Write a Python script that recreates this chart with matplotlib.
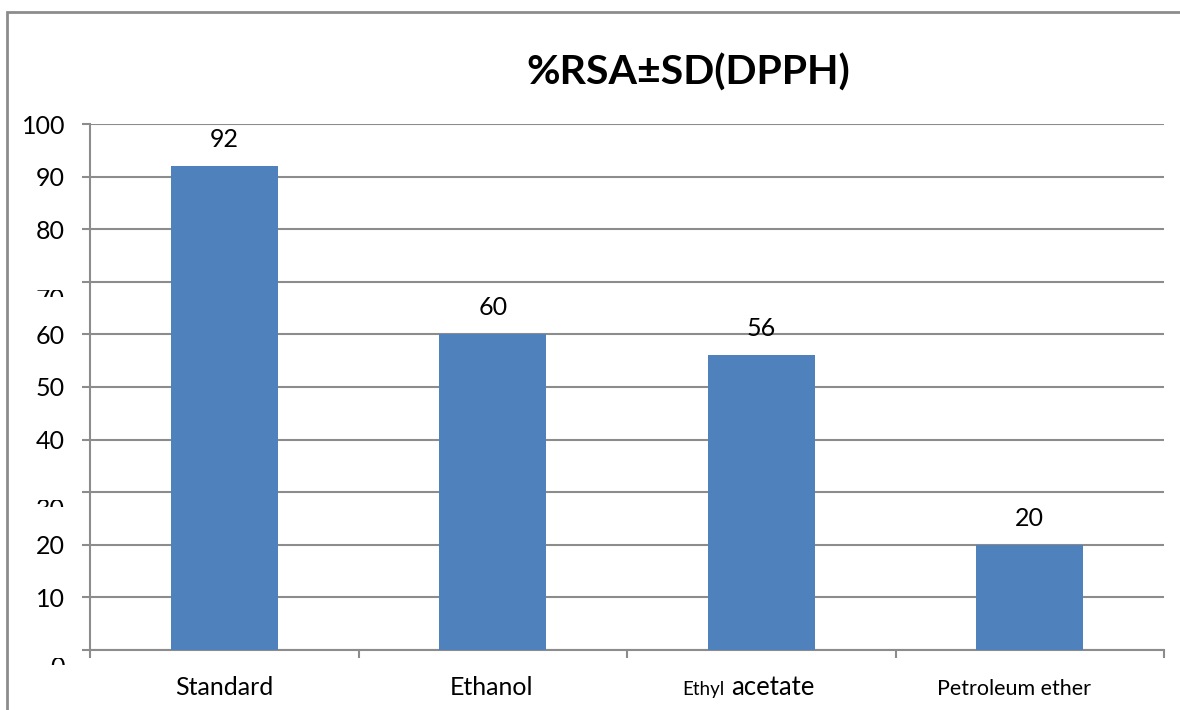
import numpy as np
import matplotlib.pyplot as plt
from matplotlib.transforms import Bbox, offset_copy
from matplotlib.patches import Rectangle

plt.rcParams['font.family'] = ['Lato', 'DejaVu Sans']

categories = ["Standard", "Ethanol", "Ethyl acetate", "Petroleum ether"]
rsa_values = [92, 60, 56, 20]
y_ticks = [0, 10, 20, 30, 40, 50, 60, 70, 80, 90, 100]
clipped_ticks = [0, 30, 70]   # labels that are half hidden in the original

bar_colour = '#4F81BD'
grid_colour = '#8C8C8C'

fig = plt.figure(figsize=(11.8, 7.1), dpi=100)
ax = fig.add_axes([90 / 1180, 60 / 710, 1074 / 1180, 526 / 710])

x = np.arange(len(categories))
bars = ax.bar(x, rsa_values, width=0.4, color=bar_colour, zorder=3)
ax.bar_label(bars, labels=[str(v) for v in rsa_values], padding=11, fontsize=18)

ax.set_xlim(-0.5, len(categories) - 0.5)
ax.set_ylim(0, 100)
ax.set_yticks(y_ticks)
ax.yaxis.grid(True, color=grid_colour, linewidth=1.5, zorder=0)

for side in ['top', 'right']:
    ax.spines[side].set_visible(False)
for side in ['left', 'bottom']:
    ax.spines[side].set_color(grid_colour)
    ax.spines[side].set_linewidth(1.5)

ax.tick_params(axis='y', length=6, width=1.5, color=grid_colour, labelsize=18, pad=12)

# x ticks at the category boundaries, labels drawn separately
ax.set_xticks(np.arange(len(categories) + 1) - 0.5)
ax.set_xticklabels([])
ax.tick_params(axis='x', length=6, width=1.5, color=grid_colour)

# the half hidden y labels (70, 30, 0)
for lab in ax.get_yticklabels():
    if lab.get_text() in [str(t) for t in clipped_ticks]:
        lab.set_visible(False)
for t in clipped_ticks:
    y_pix = ax.transData.transform((0, t))[1]
    txt = ax.text(0, t, str(t), ha='right', va='center', fontsize=18,
                  transform=offset_copy(ax.get_yaxis_transform(), fig=fig,
                                        x=-18, y=-12.5, units='points'))
    txt.set_clip_on(True)
    txt.set_clip_box(Bbox([[0, y_pix - 15], [1180, y_pix - 8]]))

# x labels, sizes and offsets as in the original
base = -32.5
ax.annotate("Standard", xy=(0, 0), xycoords=('data', 'axes fraction'),
            xytext=(0, base), textcoords='offset points', ha='center', va='baseline', fontsize=18)
ax.annotate("Ethanol", xy=(1, 0), xycoords=('data', 'axes fraction'),
            xytext=(-1, base), textcoords='offset points', ha='center', va='baseline', fontsize=18)
ax.annotate("Ethyl", xy=(2, 0), xycoords=('data', 'axes fraction'),
            xytext=(-26.5, base), textcoords='offset points', ha='right', va='baseline', fontsize=13.5)
ax.annotate("acetate", xy=(2, 0), xycoords=('data', 'axes fraction'),
            xytext=(-22, base), textcoords='offset points', ha='left', va='baseline', fontsize=18.5)
ax.annotate("Petroleum ether", xy=(3, 0), xycoords=('data', 'axes fraction'),
            xytext=(-11.5, base), textcoords='offset points', ha='center', va='baseline', fontsize=15.5)

fig.text(688 / 1180, 1 - 73 / 710, "%RSA±SD(DPPH)", ha='center', va='center',
         fontsize=29.5, fontweight='bold')

# outer chart border
fig.patches.append(Rectangle((7 / 1180, -0.1), 1.2, 1.1 - 12 / 710, transform=fig.transFigure,
                             fill=False, edgecolor=grid_colour, linewidth=2))

fig.savefig('out.png', dpi=100)
